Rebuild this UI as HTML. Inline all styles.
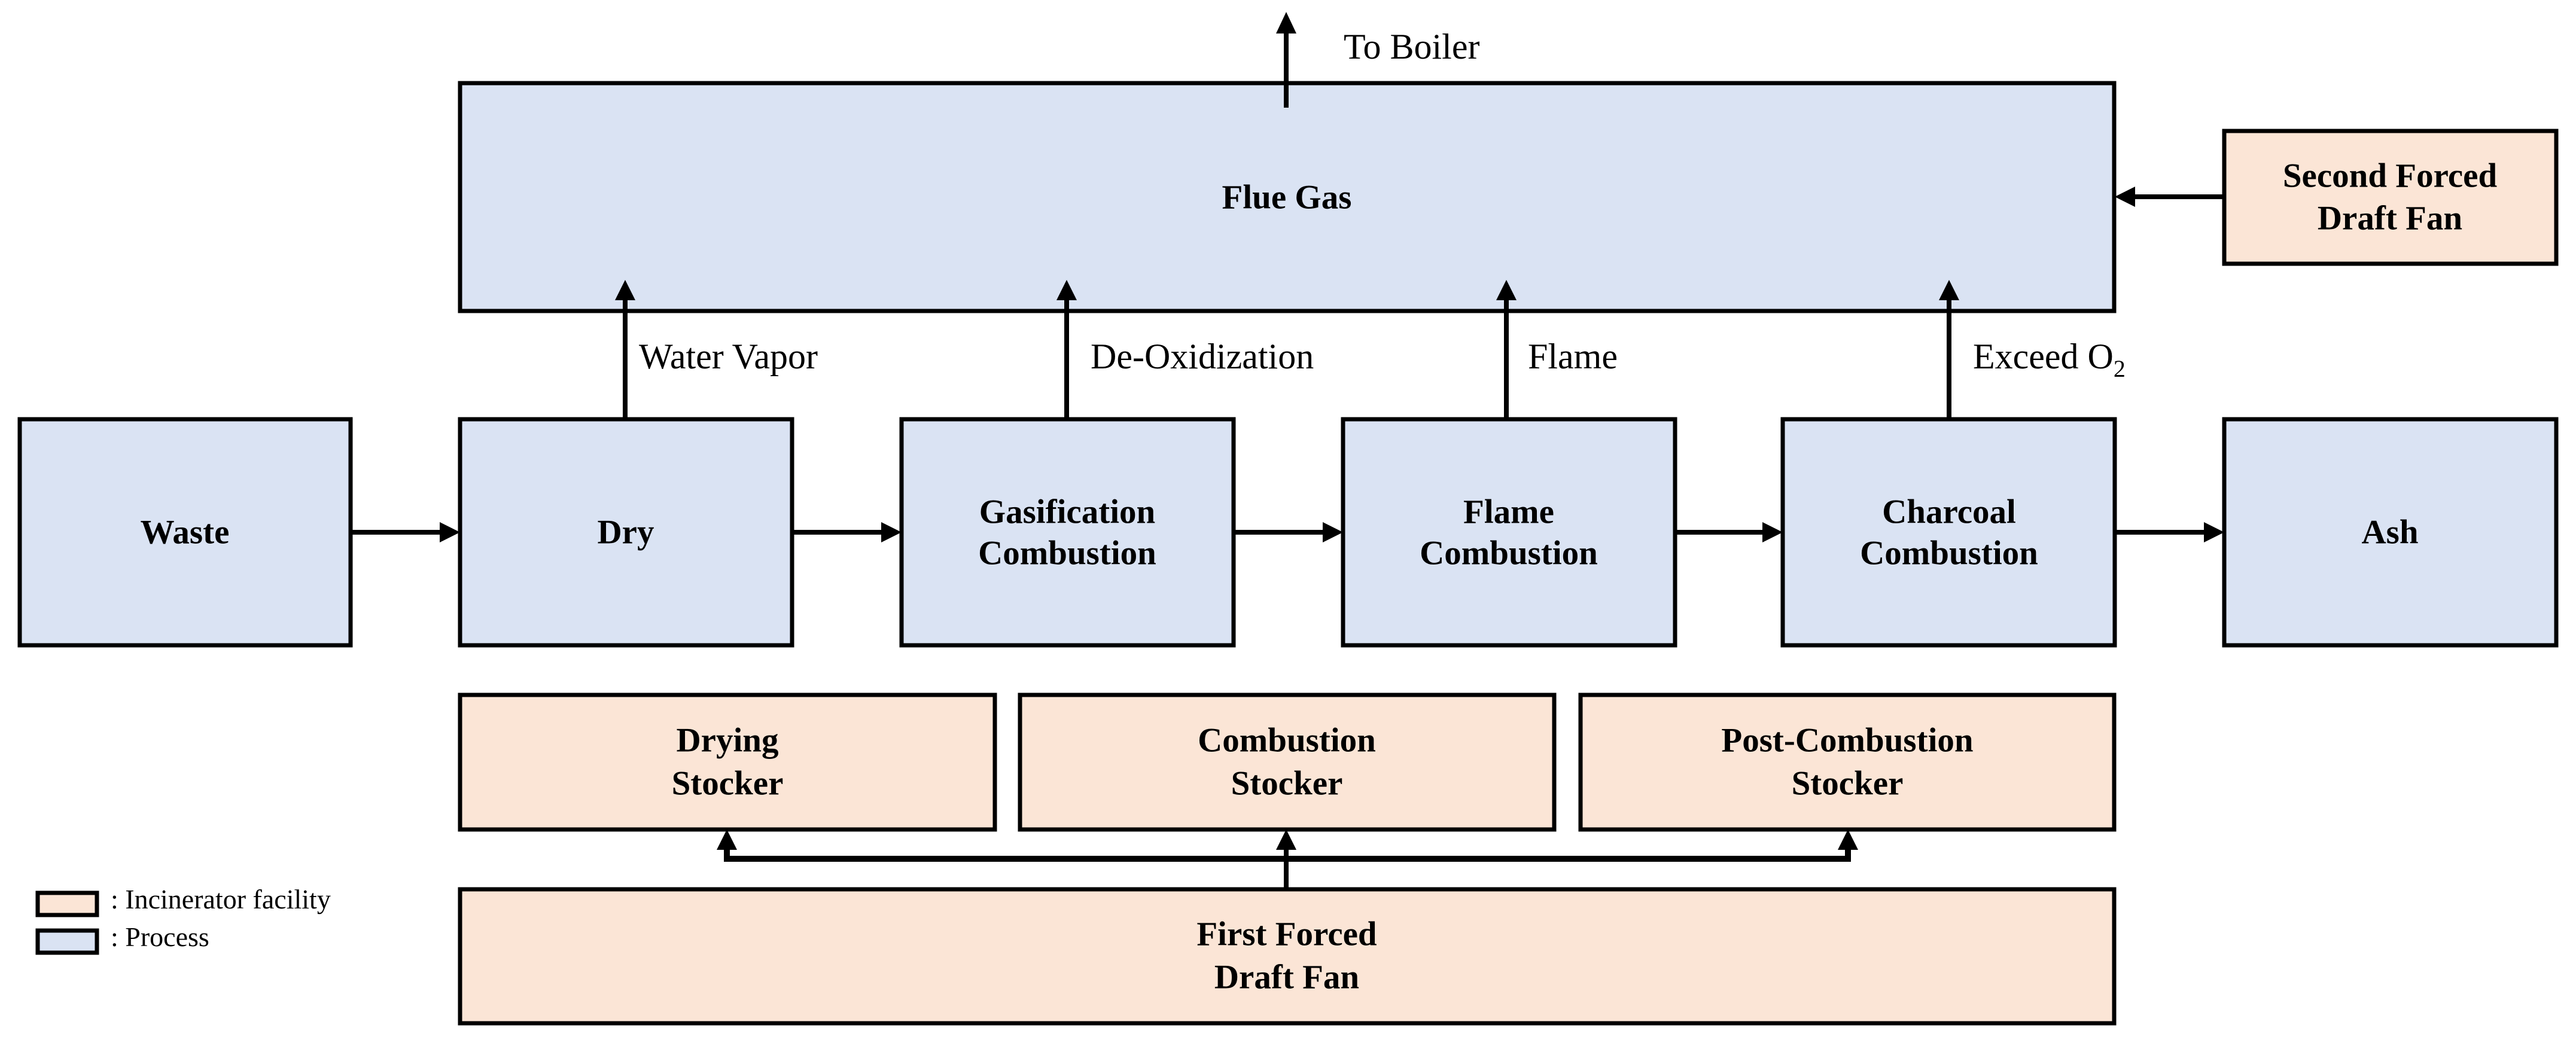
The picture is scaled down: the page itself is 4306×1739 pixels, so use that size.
<!DOCTYPE html>
<html><head><meta charset="utf-8"><style>
html,body{margin:0;padding:0;background:#fff;}
svg{display:block;}
text{font-family:"Liberation Serif",serif;fill:#000;}
.b{font-weight:bold;font-size:57px;}
.l{font-size:60px;}
.g{font-size:46px;}
</style></head><body>
<svg width="4306" height="1739" viewBox="0 0 4306 1739" xmlns="http://www.w3.org/2000/svg">
<g stroke="#000" stroke-width="7">
<rect x="769" y="139" width="2765" height="381" fill="#dae3f3"/>
<rect x="3718" y="219" width="555" height="222" fill="#fbe5d6"/>
<rect x="33" y="701" width="553" height="378" fill="#dae3f3"/>
<rect x="769" y="701" width="555" height="378" fill="#dae3f3"/>
<rect x="1507" y="701" width="555" height="378" fill="#dae3f3"/>
<rect x="2245" y="701" width="555" height="378" fill="#dae3f3"/>
<rect x="2980" y="701" width="555" height="378" fill="#dae3f3"/>
<rect x="3718" y="701" width="555" height="378" fill="#dae3f3"/>
<rect x="769" y="1162" width="894" height="225" fill="#fbe5d6"/>
<rect x="1705" y="1162" width="893" height="225" fill="#fbe5d6"/>
<rect x="2642" y="1162" width="892" height="225" fill="#fbe5d6"/>
<rect x="769" y="1487" width="2765" height="224" fill="#fbe5d6"/>
<rect x="63" y="1493" width="99" height="37" fill="#fbe5d6"/>
<rect x="63" y="1556" width="99" height="37" fill="#dae3f3"/>
</g>
<g stroke="#000" stroke-width="8" fill="none">
<line x1="2150" y1="180" x2="2150" y2="50"/>
<line x1="1045" y1="701" x2="1045" y2="500"/>
<line x1="1783" y1="701" x2="1783" y2="500"/>
<line x1="2518" y1="701" x2="2518" y2="500"/>
<line x1="3258" y1="701" x2="3258" y2="500"/>
<line x1="586" y1="890" x2="740" y2="890"/>
<line x1="1324" y1="890" x2="1478" y2="890"/>
<line x1="2062" y1="890" x2="2216" y2="890"/>
<line x1="2800" y1="890" x2="2951" y2="890"/>
<line x1="3535" y1="890" x2="3689" y2="890"/>
<line x1="3718" y1="329" x2="3566" y2="329"/>
<line x1="2150" y1="1487" x2="2150" y2="1415"/>
<polyline points="1215,1415 1215,1436 3089,1436 3089,1415" stroke-width="10"/>
</g>
<g fill="#000">
<polygon points="2150,20 2133,56 2167,56"/>
<polygon points="1045,468 1028,502 1062,502"/>
<polygon points="1783,468 1766,502 1800,502"/>
<polygon points="2518,468 2501,502 2535,502"/>
<polygon points="3258,468 3241,502 3275,502"/>
<polygon points="769,890 735,873 735,907"/>
<polygon points="1507,890 1473,873 1473,907"/>
<polygon points="2245,890 2211,873 2211,907"/>
<polygon points="2980,890 2946,873 2946,907"/>
<polygon points="3718,890 3684,873 3684,907"/>
<polygon points="3535,329 3569,312 3569,346"/>
<polygon points="1215,1387 1198,1421 1232,1421"/>
<polygon points="2150,1387 2133,1421 2167,1421"/>
<polygon points="3089,1387 3072,1421 3106,1421"/>
</g>
<g text-anchor="middle" dominant-baseline="central">
<text x="2151" y="330" class="b">Flue Gas</text>
<text x="3995" y="294" class="b">Second Forced</text>
<text x="3995" y="365" class="b">Draft Fan</text>
<text x="309" y="890" class="b">Waste</text>
<text x="1046" y="890" class="b">Dry</text>
<text x="1784" y="856" class="b">Gasification</text>
<text x="1784" y="925" class="b">Combustion</text>
<text x="2522" y="856" class="b">Flame</text>
<text x="2522" y="925" class="b">Combustion</text>
<text x="3258" y="856" class="b">Charcoal</text>
<text x="3258" y="925" class="b">Combustion</text>
<text x="3995" y="890" class="b">Ash</text>
<text x="1216" y="1238" class="b">Drying</text>
<text x="1216" y="1310" class="b">Stocker</text>
<text x="2151" y="1238" class="b">Combustion</text>
<text x="2151" y="1310" class="b">Stocker</text>
<text x="3088" y="1238" class="b">Post-Combustion</text>
<text x="3088" y="1310" class="b">Stocker</text>
<text x="2151" y="1562" class="b">First Forced</text>
<text x="2151" y="1634" class="b">Draft Fan</text>
</g>
<text x="2246" y="98" class="l">To Boiler</text>
<text x="1068" y="616" class="l">Water Vapor</text>
<text x="1823" y="616" class="l">De-Oxidization</text>
<text x="2554" y="616" class="l">Flame</text>
<text x="3298" y="616" class="l">Exceed O<tspan font-size="40" dy="14">2</tspan></text>
<text x="185" y="1519" class="g">: Incinerator facility</text>
<text x="185" y="1582" class="g">: Process</text>
</svg>
</body></html>
